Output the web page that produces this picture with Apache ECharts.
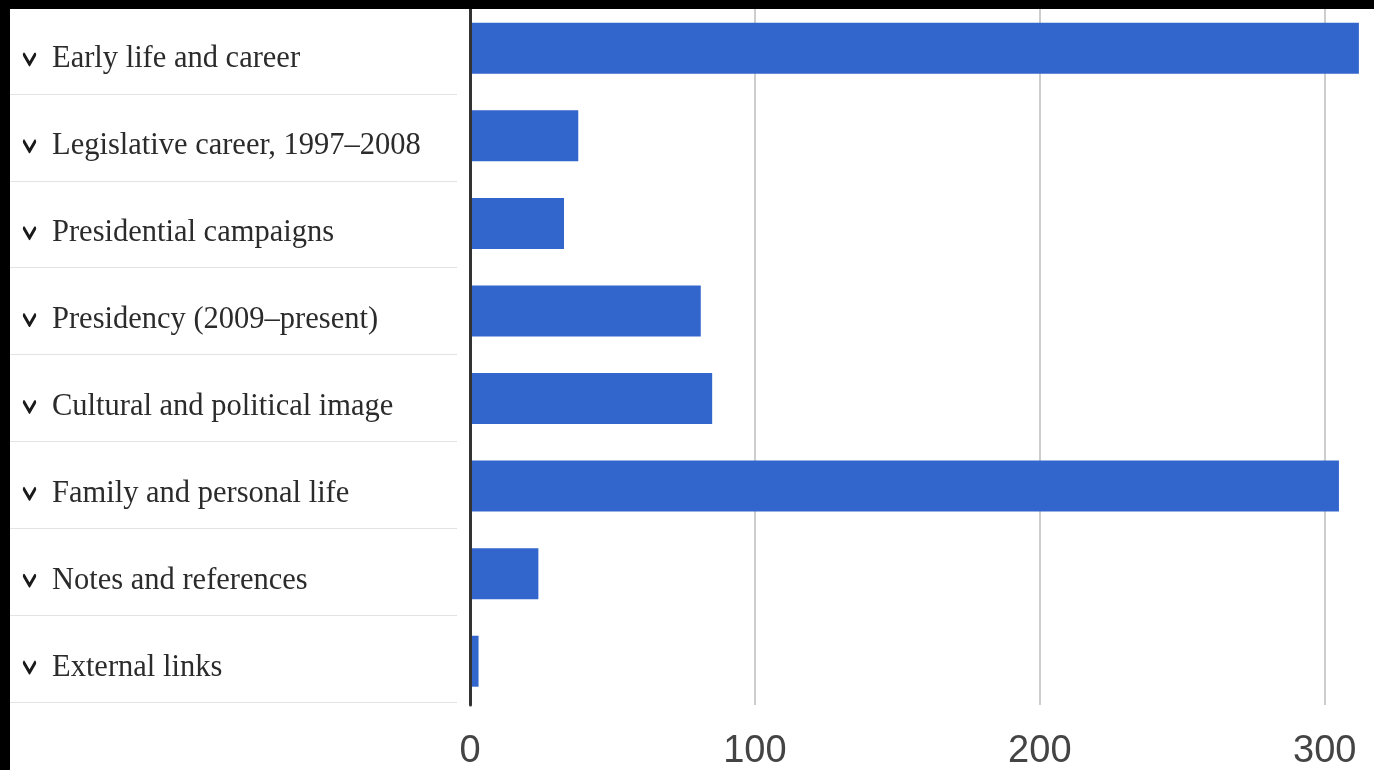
<!DOCTYPE html>
<html>
<head>
<meta charset="utf-8">
<script src="https://cdn.jsdelivr.net/npm/echarts@6/dist/echarts.min.js"></script>
<style>
  html, body { margin: 0; padding: 0; background: #000; width: 1374px; height: 770px; overflow: hidden; }
  #chart { position: absolute; left: 10px; top: 9px; width: 1364px; height: 761px; background: #fff; }
</style>
</head>
<body>
<div id="chart"></div>
<script>
// Section names of the article, top to bottom
const categories = [
  "Early life and career",
  "Legislative career, 1997–2008",
  "Presidential campaigns",
  "Presidency (2009–present)",
  "Cultural and political image",
  "Family and personal life",
  "Notes and references",
  "External links"
];
// Value for each section
const values = [312, 38, 33, 81, 85, 305, 24, 3];
// Value axis range and tick step
const axisMax = 320;
const tickStep = 100;

// Small expand chevron shown before each section name
const chevron = 'data:image/svg+xml;utf8,' + encodeURIComponent(
  "<svg xmlns='http://www.w3.org/2000/svg' width='15' height='9' viewBox='0 0 15 9'>" +
  "<path d='M2 2 L7.5 7 L13 2' fill='none' stroke='#1a1a1a' stroke-width='2.3' stroke-linecap='round' stroke-linejoin='round'/></svg>"
);

const chart = echarts.init(document.getElementById('chart'), null, { renderer: 'canvas' });

chart.setOption({
  animation: false,
  backgroundColor: '#fff',
  grid: [
    // bar area
    { left: 460, top: -4.5, width: 911.7, height: 700.5, outerBoundsMode: 'none', containLabel: false },
    // section list on the left
    { left: 0, top: -2, width: 447, height: 695, outerBoundsMode: 'none', containLabel: false }
  ],
  xAxis: [
    {
      gridIndex: 0,
      type: 'value',
      min: 0,
      max: axisMax,
      interval: tickStep,
      axisLine: { show: false },
      axisTick: { show: false },
      splitLine: { show: true, showMaxLine: false, lineStyle: { color: '#cdcdcd', width: 2 } },
      axisLabel: {
        showMaxLabel: false,
        margin: 28,
        color: '#444',
        fontFamily: 'Liberation Sans, Arial, sans-serif',
        fontSize: 38
      }
    },
    { gridIndex: 1, type: 'value', show: false }
  ],
  yAxis: [
    {
      gridIndex: 0,
      type: 'category',
      inverse: true,
      data: categories,
      z: 5,
      axisLine: { show: true, lineStyle: { color: '#333', width: 3 } },
      axisTick: { show: false },
      axisLabel: { show: false },
      splitLine: { show: false }
    },
    {
      gridIndex: 1,
      type: 'category',
      inverse: true,
      data: categories,
      axisLine: { show: false },
      axisTick: { show: false },
      splitLine: { show: true, lineStyle: { color: '#e3e3e3', width: 1 } },
      axisLabel: {
        inside: true,
        margin: 12,
        padding: [18, 0, 0, 0],
        formatter: function (name) { return '{ic|}{t|' + name + '}'; },
        rich: {
          ic: {
            width: 15,
            height: 9,
            backgroundColor: { image: chevron },
            padding: [8, 0, 0, 0]
          },
          t: {
            fontFamily: 'Liberation Serif, "Times New Roman", serif',
            fontSize: 30.5,
            color: '#2b2b2b',
            padding: [0, 0, 0, 15]
          }
        }
      }
    }
  ],
  series: [
    {
      type: 'bar',
      xAxisIndex: 0,
      yAxisIndex: 0,
      data: values,
      barWidth: 51,
      itemStyle: { color: '#3366cc' },
      silent: true
    }
  ]
});
</script>
</body>
</html>
